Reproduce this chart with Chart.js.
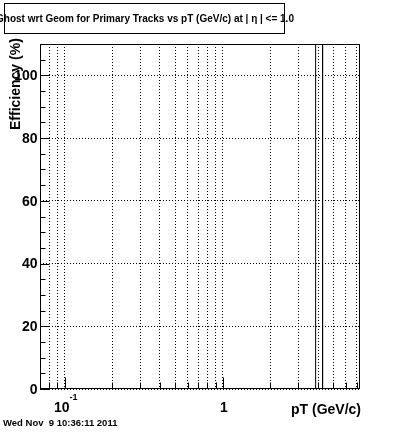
<!DOCTYPE html>
<html>
<head>
<meta charset="utf-8">
<script src="https://cdn.jsdelivr.net/npm/chart.js@4.4.1/dist/chart.umd.min.js"></script>
<style>
  html, body { margin: 0; padding: 0; background: #fff; }
  #c { display: block; }
</style>
</head>
<body>
<canvas id="c" width="400" height="433"></canvas>
<script>
// histogram content (ghost rate, %) -- only one bin is filled and it's off scale
const binLow = [0.07, 3.86, 4.27];
const binHigh = [3.86, 4.27, 7.36];
const binValue = [0, 150, 0];

// axis ranges + ticks
const xRange = [0.07, 7.36];
const yRange = [0, 110];
const xGrid = [0.08, 0.09, 0.1, 0.2, 0.3, 0.4, 0.5, 0.6, 0.7, 0.8, 0.9, 1, 2, 3, 4, 5, 6, 7];
const xMajor = [0.1, 1];
const yMajor = [0, 20, 40, 60, 80, 100];
const yMinor = [5, 10, 15, 25, 30, 35, 45, 50, 55, 65, 70, 75, 85, 90, 95, 105];

const titleText = 'Ghost wrt Geom for Primary Tracks vs pT (GeV/c) at | \u03b7 | <= 1.0';
const xTitle = 'pT (GeV/c)';
const yTitle = 'Efficiency (%)';
const dateText = 'Wed Nov  9 10:36:11 2011';

const FONT = '"Liberation Sans", Arial, Helvetica, sans-serif';

// build step outline from the bins
const stepPts = [];
binLow.forEach((lo, i) => {
  stepPts.push({ x: lo, y: 0 });
  stepPts.push({ x: lo, y: binValue[i] });
  stepPts.push({ x: binHigh[i], y: binValue[i] });
  stepPts.push({ x: binHigh[i], y: 0 });
});

// ROOT-ish decorations: frame, inward ticks, labels, title box
const rootDeco = {
  id: 'rootDeco',
  afterDraw(chart) {
    const ctx = chart.ctx;
    const a = chart.chartArea;
    const xs = chart.scales.x, ys = chart.scales.y;
    const L = Math.round(a.left) + 0.5, R = Math.round(a.right) - 0.5;
    const T = Math.round(a.top) + 0.5, B = Math.round(a.bottom) - 0.5;
    ctx.save();
    ctx.strokeStyle = '#000';
    ctx.lineWidth = 1;
    ctx.setLineDash([]);
    ctx.strokeRect(L, T, R - L, B - T);

    // ticks
    ctx.beginPath();
    yMajor.forEach(v => {
      const y = Math.round(ys.getPixelForValue(v)) + 0.5;
      ctx.moveTo(L, y); ctx.lineTo(L + 9, y);
    });
    yMinor.forEach(v => {
      const y = Math.round(ys.getPixelForValue(v)) + 0.5;
      ctx.moveTo(L, y); ctx.lineTo(L + 5, y);
    });
    xGrid.forEach(v => {
      const x = Math.round(xs.getPixelForValue(v)) + 0.5;
      const len = xMajor.includes(v) ? 11 : 6;
      ctx.moveTo(x, B); ctx.lineTo(x, B - len);
    });
    ctx.stroke();

    ctx.fillStyle = '#000';
    // y labels
    ctx.font = 'bold 14px ' + FONT;
    ctx.textAlign = 'right';
    ctx.textBaseline = 'middle';
    yMajor.forEach(v => {
      ctx.fillText(String(v), L - 3, ys.getPixelForValue(v) + 1);
    });

    // x labels
    ctx.textBaseline = 'alphabetic';
    const x01 = xs.getPixelForValue(0.1);
    ctx.textAlign = 'right';
    ctx.fillText('10', x01 + 5, 412);
    ctx.font = 'bold 9px ' + FONT;
    ctx.textAlign = 'left';
    ctx.fillText('-1', x01 + 5, 400);
    ctx.font = 'bold 14px ' + FONT;
    ctx.textAlign = 'center';
    ctx.fillText('1', xs.getPixelForValue(1) + 1, 412);

    // axis titles
    ctx.textAlign = 'right';
    ctx.fillText(xTitle, a.right + 1, 414);
    ctx.save();
    ctx.translate(20, 130);
    ctx.rotate(-Math.PI / 2);
    ctx.textAlign = 'left';
    ctx.fillText(yTitle, 0, 0);
    ctx.restore();

    // title box
    ctx.fillStyle = '#fff';
    ctx.fillRect(4, 3, 280, 30);
    ctx.fillStyle = '#000';
    ctx.font = 'bold 10px ' + FONT;
    ctx.textAlign = 'center';
    ctx.fillText(titleText, 145, 22);
    ctx.strokeRect(4.5, 3.5, 280, 30);

    // date stamp
    ctx.font = 'bold 9.5px ' + FONT;
    ctx.textAlign = 'left';
    ctx.fillText(dateText, 3, 426);
    ctx.restore();
  }
};

new Chart(document.getElementById('c'), {
  type: 'line',
  data: {
    datasets: [{
      data: stepPts,
      borderColor: '#000',
      borderWidth: 1,
      pointRadius: 0,
      fill: false,
      tension: 0
    }]
  },
  options: {
    responsive: false,
    animation: false,
    devicePixelRatio: 1,
    layout: { padding: { left: 40, right: 40, top: 44, bottom: 44 } },
    plugins: { legend: { display: false }, tooltip: { enabled: false }, title: { display: false } },
    scales: {
      x: {
        type: 'logarithmic',
        min: xRange[0],
        max: xRange[1],
        afterBuildTicks: s => { s.ticks = xGrid.map(v => ({ value: v })); },
        afterFit: s => { s.height = 0; },
        ticks: { display: false },
        grid: { color: '#000', lineWidth: 1, drawTicks: false },
        border: { display: false, dash: [1, 2] }
      },
      y: {
        type: 'linear',
        min: yRange[0],
        max: yRange[1],
        afterBuildTicks: s => { s.ticks = yMajor.map(v => ({ value: v })); },
        afterFit: s => { s.width = 0; },
        ticks: { display: false },
        grid: { color: '#000', lineWidth: 1, drawTicks: false },
        border: { display: false, dash: [1, 2] }
      }
    }
  },
  plugins: [rootDeco]
});
</script>
</body>
</html>
